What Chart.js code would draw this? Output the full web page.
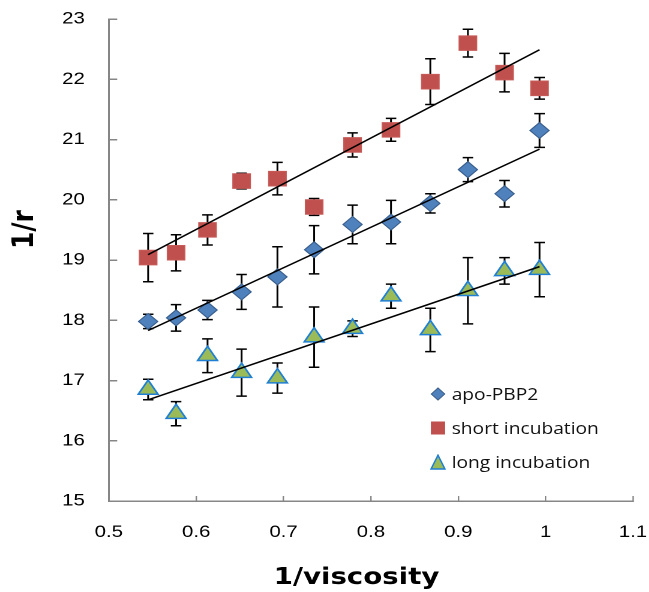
<!DOCTYPE html>
<html>
<head>
<meta charset="utf-8">
<script src="https://cdn.jsdelivr.net/npm/chart.js@4.4.1/dist/chart.umd.min.js"></script>
<style>
  html, body { margin: 0; padding: 0; background: #fff; }
  /* la figura original viene estirada en horizontal */
  #marco { position: absolute; left: 0; top: 0; width: 541px; height: 592px; transform: scaleX(1.2); transform-origin: 0 0; }
  #leyenda { position: absolute; left: 0; top: 0; font-family: 'Open Sans', sans-serif; font-size: 16px; color: #111; }
  .item { position: absolute; display: flex; align-items: center; height: 20px; white-space: nowrap; }
  .item svg { margin-right: 4.8px; }
</style>
</head>
<body>
<div id="marco">
  <canvas id="grafica"></canvas>
  <div id="leyenda"></div>
</div>
<script>
const viscosidadInv = [0.545, 0.577, 0.613, 0.652, 0.693, 0.735, 0.779, 0.823, 0.868, 0.911, 0.953, 0.993];

const apoPBP2 = [17.98, 18.04, 18.17, 18.47, 18.72, 19.17, 19.59, 19.63, 19.94, 20.50, 20.10, 21.15];
const apoError = [0.12, 0.22, 0.16, 0.29, 0.50, 0.40, 0.32, 0.36, 0.16, 0.20, 0.22, 0.28];

const cortaInc = [19.04, 19.12, 19.50, 20.31, 20.35, 19.88, 20.91, 21.16, 21.96, 22.60, 22.11, 21.85];
const cortaError = [0.40, 0.30, 0.25, 0.13, 0.27, 0.14, 0.20, 0.19, 0.38, 0.23, 0.32, 0.18];

const largaInc = [16.85, 16.45, 17.41, 17.13, 17.04, 17.72, 17.86, 18.40, 17.84, 18.49, 18.82, 18.84];
const largaError = [0.17, 0.20, 0.28, 0.39, 0.25, 0.50, 0.13, 0.20, 0.36, 0.55, 0.22, 0.45];

const nombres = ['apo-PBP2', 'short incubation', 'long incubation'];

// líneas de tendencia: valor al inicio y al final del rango de x
const tendApo = [17.83, 20.84];
const tendCorta = [19.09, 22.49];
const tendLarga = [16.68, 18.89];

const ticksX = [0.5, 0.6, 0.7, 0.8, 0.9, 1, 1.1];
const ticksY = [15, 16, 17, 18, 19, 20, 21, 22, 23];

const puntos = ys => viscosidadInv.map((x, i) => ({ x, y: ys[i] }));
const tendencia = t => [
  { x: viscosidadInv[0], y: t[0] },
  { x: viscosidadInv[viscosidadInv.length - 1], y: t[1] }
];

// barras de error verticales con remate
const barrasError = {
  id: 'barrasError',
  beforeDatasetsDraw(chart) {
    const { ctx, scales: { x, y } } = chart;
    ctx.save();
    ctx.strokeStyle = '#000';
    ctx.lineWidth = 1.5;
    chart.data.datasets.forEach((ds, i) => {
      if (!ds.errores) return;
      ds.data.forEach((p, j) => {
        const px = x.getPixelForValue(p.x);
        const arriba = y.getPixelForValue(p.y + ds.errores[j]);
        const abajo = y.getPixelForValue(p.y - ds.errores[j]);
        ctx.beginPath();
        ctx.moveTo(px, arriba); ctx.lineTo(px, abajo);
        ctx.moveTo(px - 4.4, arriba); ctx.lineTo(px + 4.4, arriba);
        ctx.moveTo(px - 4.4, abajo); ctx.lineTo(px + 4.4, abajo);
        ctx.stroke();
      });
    });
    ctx.restore();
  }
};

const lineaTend = t => ({
  data: tendencia(t),
  showLine: true,
  borderColor: '#000',
  borderWidth: 1.5,
  pointRadius: 0,
  order: -1
});

const ejeGris = '#868686';

new Chart(document.getElementById('grafica'), {
  type: 'scatter',
  data: {
    datasets: [
      {
        label: nombres[0],
        data: puntos(apoPBP2),
        errores: apoError,
        pointStyle: 'rectRot',
        pointRadius: 8,
        backgroundColor: '#4F81BD',
        borderColor: '#385D8A',
        borderWidth: 1
      },
      {
        label: nombres[1],
        data: puntos(cortaInc),
        errores: cortaError,
        pointStyle: 'rect',
        pointRadius: 10.3,
        backgroundColor: '#C0504D',
        borderColor: '#C65B58',
        borderWidth: 1
      },
      {
        label: nombres[2],
        data: puntos(largaInc),
        errores: largaError,
        pointStyle: 'triangle',
        pointRadius: 9.5,
        backgroundColor: '#9BBB59',
        borderColor: '#1F7FD4',
        borderWidth: 1.5
      },
      lineaTend(tendApo),
      lineaTend(tendCorta),
      lineaTend(tendLarga)
    ]
  },
  options: {
    responsive: true,
    maintainAspectRatio: false,
    animation: false,
    devicePixelRatio: 2,
    layout: { padding: { top: 19, right: 13.5, bottom: 0, left: 0 } },
    plugins: {
      legend: { display: false },
      tooltip: { enabled: false }
    },
    scales: {
      x: {
        type: 'linear',
        min: ticksX[0],
        max: ticksX[ticksX.length - 1],
        afterBuildTicks: s => { s.ticks = ticksX.map(v => ({ value: v })); },
        afterFit: s => { s.height = 91; s.paddingLeft = 0; s.paddingRight = 0; },
        border: { color: ejeGris, width: 1.5 },
        grid: { drawOnChartArea: false, drawTicks: true, tickLength: -5, color: ejeGris, lineWidth: 1.2 },
        ticks: {
          padding: 26,
          color: '#000',
          maxRotation: 0,
          autoSkip: false,
          font: { family: 'Liberation Sans', size: 17 },
          callback: v => String(v)
        },
        title: {
          display: true,
          text: '1/viscosity   ',
          color: '#000',
          padding: 0,
          font: { family: 'DejaVu Sans', size: 23, weight: 'bold' }
        }
      },
      y: {
        type: 'linear',
        min: ticksY[0],
        max: ticksY[ticksY.length - 1],
        afterBuildTicks: s => { s.ticks = ticksY.map(v => ({ value: v })); },
        afterFit: s => { s.width = 90.67; s.paddingTop = 0; s.paddingBottom = 0; },
        border: { color: ejeGris, width: 1.5 },
        grid: { drawOnChartArea: false, drawTicks: true, tickLength: -7, color: ejeGris, lineWidth: 1.5 },
        ticks: {
          padding: 27,
          color: '#000',
          autoSkip: false,
          font: { family: 'Liberation Sans', size: 17 },
          callback: v => String(v)
        },
        title: {
          display: true,
          text: '       1/r',
          color: '#000',
          padding: { top: 6, bottom: 0 },
          font: { family: 'DejaVu Sans', size: 25, weight: 'bold' }
        }
      }
    }
  },
  plugins: [barrasError]
});

// leyenda dentro del área de la gráfica
const marcas = [
  '<polygon points="1.5,8 7,2 12.5,8 7,14" fill="#4F81BD" stroke="#385D8A" stroke-width="1"/>',
  '<rect x="1.2" y="1.5" width="11.6" height="13" fill="#C0504D"/>',
  '<polygon points="7,1.2 12.8,15 1.2,15" fill="#9BBB59" stroke="#1F7FD4" stroke-width="1.3"/>'
];
const filasY = [393.5, 428, 462];
const leyenda = document.getElementById('leyenda');
nombres.forEach((n, i) => {
  const fila = document.createElement('div');
  fila.className = 'item';
  fila.style.left = '357.6px';
  fila.style.top = (filasY[i] - 10) + 'px';
  fila.innerHTML = '<svg width="14" height="16" viewBox="0 0 14 16">' + marcas[i] + '</svg><span>' + n + '</span>';
  leyenda.appendChild(fila);
});
</script>
</body>
</html>
